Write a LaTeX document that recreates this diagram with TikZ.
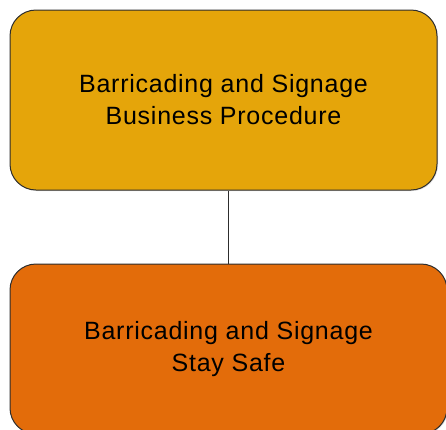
\documentclass[tikz,border=0pt]{standalone}
\usepackage{fontspec}
\setmainfont{Liberation Sans}
\usetikzlibrary{positioning, shadows}
\definecolor{procedurecolor}{RGB}{229, 165, 10}
\definecolor{staysafecolor}{RGB}{227, 108, 10}
\definecolor{bordercolor}{RGB}{45, 45, 45}

\begin{document}
\begin{tikzpicture}[
    x=1pt, y=1pt,
    docbox/.style={
        rectangle,
        rounded corners=26pt,
        draw=bordercolor,
        line width=1pt,
        align=center,
        inner sep=0pt,
        font=\fontsize{25}{32}\selectfont\addfontfeature{LetterSpace=3},
        drop shadow={shadow xshift=1pt, shadow yshift=-1pt, opacity=0.25}
    },
    link/.style={
        line width=1pt,
        draw=bordercolor
    }
]

% Fix the page size
\useasboundingbox (0,0) rectangle (446,-429);

% Document boxes
\node[docbox, fill=procedurecolor, minimum width=427pt, minimum height=180pt] (procedure) at (223.5,-100) {Barricading and Signage\\Business Procedure};

\node[docbox, fill=staysafecolor, minimum width=437pt, minimum height=170pt, below=73pt of procedure, xshift=5pt] (staysafe) {Barricading and Signage\\Stay Safe};

% Connector
\draw[link] (staysafe.north) -- (staysafe.north |- procedure.south);

\end{tikzpicture}
\end{document}
